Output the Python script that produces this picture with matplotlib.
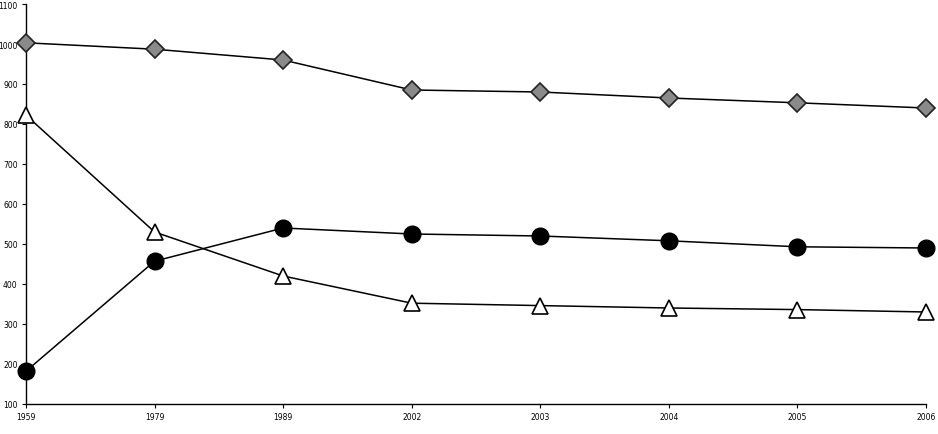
import matplotlib
matplotlib.use("Agg")
import matplotlib.pyplot as plt

years = ["1959", "1979", "1989", "2002", "2003", "2004", "2005", "2006"]
diamond_series = [1003, 987, 960, 885, 880, 865, 853, 840]
circle_series = [182, 457, 540, 525, 520, 508, 493, 490]
triangle_series = [822, 530, 420, 352, 346, 340, 336, 330]

fig = plt.figure(figsize=(9.38, 4.35), dpi=100)
ax = fig.add_axes([0.0277, 0.069, 0.9595, 0.9195])
x = list(range(len(years)))

ax.plot(x, diamond_series, color="black", lw=1.1, marker="D", markersize=9,
        markerfacecolor="#8a8a8a", markeredgecolor="#222222", markeredgewidth=1.2, zorder=3)
ax.plot(x, circle_series, color="black", lw=1.1, marker="o", markersize=12,
        markerfacecolor="black", markeredgecolor="black", zorder=3)
ax.plot(x, triangle_series, color="black", lw=1.1, marker="^", markersize=11.5,
        markerfacecolor="white", markeredgecolor="black", markeredgewidth=1.2, zorder=4)

ax.set_xlim(0, len(years) - 1)
ax.set_ylim(100, 1100)
ax.set_yticks(range(100, 1101, 100))
ax.set_xticks(x)
ax.set_xticklabels(years)
ax.tick_params(axis="both", labelsize=5.5, length=3, width=0.8, direction="out", pad=3)
for s in ["top", "right"]:
    ax.spines[s].set_visible(False)
for s in ["left", "bottom"]:
    ax.spines[s].set_linewidth(1.0)
for line in ax.get_lines():
    line.set_clip_on(False)

fig.savefig("out.png", dpi=100)
